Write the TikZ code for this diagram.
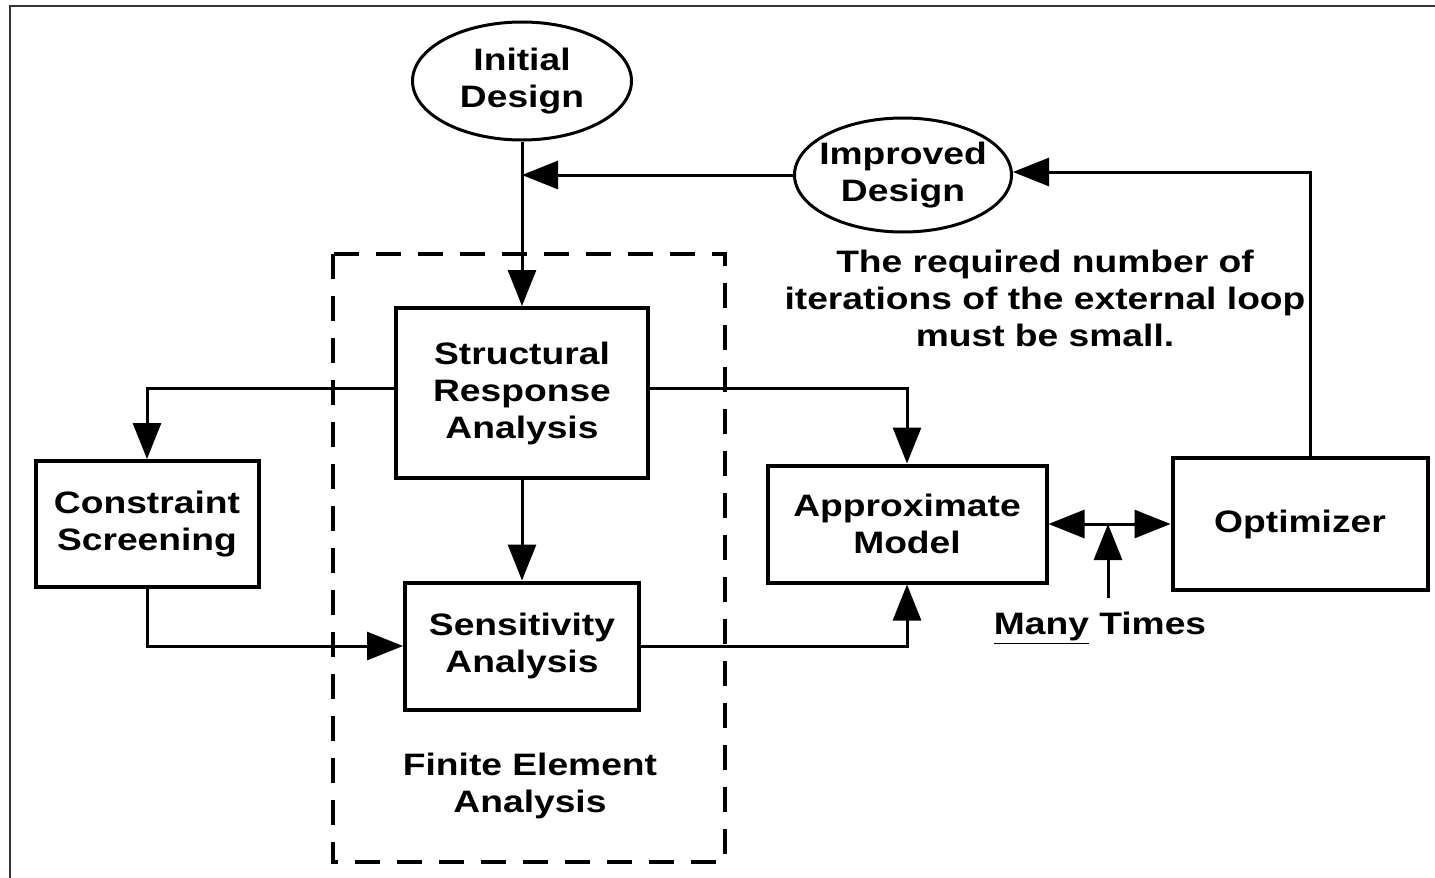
\documentclass[tikz,border=0pt]{standalone}
\usepackage{fontspec}
\setmainfont{Liberation Sans}[FakeStretch=1.2]
\usetikzlibrary{arrows.meta,shapes.geometric}

\tikzset{
	block/.style = {draw, line width=2pt, align=center},
	bubble/.style = {draw, ellipse, line width=1.5pt, align=center, inner sep=0pt},
	conn/.style = {line width=1.5pt, -{Triangle[length=18pt, width=14pt]}},
	note/.style = {align=center}
}

\begin{document}
\begin{tikzpicture}[x=0.5pt, y=-0.5pt, font=\fontsize{15.5}{18.5}\selectfont\bfseries]
		\useasboundingbox (0,0) rectangle (1435,878);
		\draw [line width=1.2pt, black!80] (10,878) -- (10,6) -- (1435,6);
		% finite element part
		\draw [line width=2pt, dash pattern=on 12.5pt off 8.5pt] (333,254) rectangle (725,862);
		\node [note] (fea) at (530,786) {Finite Element\\Analysis};
		% nodes
		\node [bubble, minimum width=109.5pt, minimum height=59pt] (init) at (522,81) {Initial\\Design};
		\node [bubble, inner xsep=-4pt, inner ysep=-1pt, minimum width=108.5pt, minimum height=57pt] (impr) at (903,175) {Improved\\Design};
		\node [block, minimum width=126pt, minimum height=85pt] (struct) at (522,393) {Structural\\Response\\Analysis};
		\node [block, minimum width=117pt, minimum height=63.5pt] (sens) at (522,646) {Sensitivity\\Analysis};
		\node [block, minimum width=111.5pt, minimum height=63pt] (constr) at (147,524) {Constraint\\Screening};
		\node [block, minimum width=139.5pt, minimum height=58.5pt] (approx) at (907,524) {Approximate\\Model};
		\node [block, minimum width=127.5pt, minimum height=66pt] (optim) at (1300,524) {Optimizer};
		\node [note] (loop) at (1045,298) {The required number of\\iterations of the external loop\\must be small.};
		\node (many) at (1100,628) {\underline{Many} Times};
		\coordinate (join) at (522,175);
		\coordinate (tail) at (1108,598);
		\coordinate (tap) at (1108,524);
		% connectors
		\draw [conn] (init.south) -- (struct.north);
		\draw [conn] (impr.west) -- (join);
		\draw [conn] ([xshift=5pt]optim.north) |- ([yshift=1.5pt]impr.east);
		\draw [conn] ([yshift=2.5pt]struct.west) -| (constr.north);
		\draw [conn] ([yshift=2.5pt]struct.east) -| (approx.north);
		\draw [conn] (struct.south) -- (sens.north);
		\draw [conn] (constr.south) |- (sens.west);
		\draw [conn] (sens.east) -| (approx.south);
		\draw [conn, {Triangle[length=18pt, width=14pt]}-{Triangle[length=18pt, width=14pt]}] (approx.east) -- (optim.west);
		\draw [conn] (tail) -- (tap);
	\end{tikzpicture}
\end{document}
